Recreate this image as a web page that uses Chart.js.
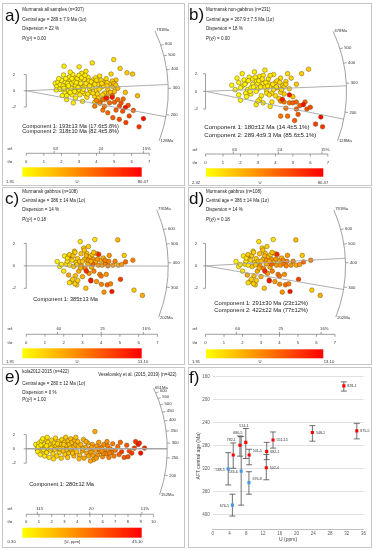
<!DOCTYPE html>
<html>
<head>
<meta charset="utf-8">
<script src="https://cdn.jsdelivr.net/npm/chart.js@4.4.1/dist/chart.umd.min.js"></script>
<style>
body{margin:0;background:#fff;width:373px;height:550px;position:relative;overflow:hidden}
canvas{position:absolute;left:0;top:0}
</style>
</head>
<body>
<canvas id="pa" width="373" height="550"></canvas>
<canvas id="pb" width="373" height="550"></canvas>
<canvas id="pc" width="373" height="550"></canvas>
<canvas id="pd" width="373" height="550"></canvas>
<canvas id="pe" width="373" height="550"></canvas>
<canvas id="pf" width="373" height="550"></canvas>
<script>
// pontos: [t/sigma, z, U]
const pontosA = [
 [1.65,0.93,4],[1.74,0.53,3],[1.80,1.09,5],[1.93,0.73,4],[2.02,0.20,4],[2.12,1.94,5],[2.21,1.09,6],[2.30,0.53,5],[2.40,0.04,6],[2.49,1.41,6],
 [2.58,0.93,7],[2.68,1.74,6],[2.77,0.32,8],[2.87,-0.20,7],[2.96,0.73,8],[3.05,1.25,7],[3.15,2.14,8],[3.24,0.53,9],[3.33,-0.36,10],[3.43,1.01,9],
 [3.52,1.66,9],[3.61,0.20,11],[3.71,0.69,10],[3.80,1.33,11],[3.90,-0.69,14],[3.99,0.04,12],[4.08,0.77,12],[4.18,1.82,11],[4.27,0.44,14],[4.36,1.09,13],
 [4.46,-0.28,17],[4.55,1.49,14],[4.64,0.20,17],[4.74,0.85,16],[4.83,2.06,14],[4.93,0.53,19],[5.02,-0.08,22],[5.11,1.33,18],[5.21,0.32,22],
 [1.9,0.2,4],[2.0,1.3,5],[2.1,0.6,4],[2.2,-0.3,5],[2.35,0.9,5],[2.45,1.7,6],[2.55,0.3,6],[2.6,-0.5,6],[2.7,1.2,7],[2.8,0.7,6],[2.9,1.5,7],
 [3.0,0.1,8],[3.1,0.9,8],[3.2,-0.1,8],[3.3,1.4,8],[3.35,0.6,9],[3.45,-0.8,11],[3.55,1.2,9],[3.65,-0.2,11],[3.75,0.4,11],[3.85,1.0,11],
 [3.95,1.6,10],[4.05,-0.4,14],[4.15,0.2,13],[4.25,1.3,13],[4.4,0.6,14],[4.5,-0.9,20],[4.6,1.0,15],[4.7,-0.3,19],[4.9,1.2,17],[5.0,0.9,20],
 [2.25,1.5,5],[2.65,2.0,6],[3.0,1.9,7],[3.4,2.4,8],[2.3,-0.6,5],[2.8,-0.9,7],[3.2,-1.3,9],[3.9,-1.4,14],[4.2,-1.5,18],[4.5,-1.1,20],
 [4.98,3.84,12],[3.76,3.43,10],[2.15,3.03,6],[3.01,2.95,8],[5.34,2.75,15],[5.73,2.22,18],[6.05,2.06,20],[6.33,-0.61,24],[5.64,-0.20,22],[2.3,-1.09,6],[2.68,-1.49,7],
 [1.7,0.1,3],[1.85,1.5,4],[2.05,-0.6,4],[2.15,0.3,5],[2.4,0.6,5],[2.5,-0.2,6],[2.6,1.5,6],[2.75,-0.1,7],[2.85,1.0,7],[2.95,0.4,8],
 [3.05,-0.5,8],[3.15,1.6,8],[3.25,0.2,9],[3.4,0.9,9],[3.5,-0.4,10],[3.6,0.6,10],[3.7,1.1,10],[3.8,-0.3,12],[3.9,0.8,11],[4.0,1.3,12],
 [4.1,-0.9,15],[4.3,0.9,13],[4.35,-0.5,16],[4.6,0.6,16],[4.8,-0.2,20],[5.1,0.7,20],[3.35,1.9,8],[2.5,2.3,6],
 [4.18,-1.49,45],[4.36,-1.09,48],[4.74,-1.49,50],[5.02,-1.41,52],[5.21,-1.09,50],[5.30,-1.90,55],[5.11,-2.38,52],[5.49,-2.51,56],[5.86,-3.11,60],[6.10,-2.42,55],
 [5.30,-3.52,58],[4.93,-3.31,54],[5.67,-3.92,62],[6.42,-4.44,66],[4.64,-2.71,50],[4.36,-2.38,46],[3.90,-1.90,42],[5.52,-1.01,48],[4.6,-0.9,44],[4.9,-0.6,46],
 [5.4,-1.5,56],[5.8,-1.8,58],[4.0,-1.2,40],[4.45,-1.9,47],
 [4.55,-0.89,74],[4.89,-0.81,76],[5.64,-2.06,78],[6.67,-3.43,80]
];
const pontosB = [
 [1.5,0.7,3],[1.8,1.5,4],[1.9,-0.4,4],[2.1,2.0,5],[2.1,0.6,4],[2.3,1.0,5],[2.4,0.2,5],[2.5,1.6,6],[2.6,-0.3,6],[2.7,0.8,7],
 [2.8,2.2,6],[2.9,1.2,7],[3.0,0.3,7],[3.1,1.7,8],[3.2,-0.5,8],[3.3,0.9,8],[3.4,2.4,8],[3.5,0.1,9],[3.6,1.4,10],[3.7,0.6,10],
 [3.8,-0.2,11],[3.9,1.9,10],[4.0,1.0,11],[4.1,0.4,12],[4.2,-0.8,15],[4.3,1.5,13],[4.4,0.7,14],[4.5,-0.3,16],[4.6,1.1,14],[4.7,2.0,13],
 [4.8,0.3,17],[4.9,1.5,16],[5.0,-0.6,20],[5.2,0.8,18],[5.5,2.0,17],[5.9,2.5,18],[1.9,1.0,4],[2.2,1.3,5],[2.3,-0.2,5],[2.6,0.4,5],
 [2.7,1.4,6],[2.9,0.0,7],[3.0,0.9,7],[3.1,-0.9,7],[3.3,1.8,8],[3.4,0.5,9],[3.5,-0.2,9],[3.6,0.9,10],[3.7,1.8,10],[3.9,0.2,11],
 [4.0,-0.5,12],[4.1,1.2,12],[4.3,-0.1,14],[4.5,0.5,15],[2.9,-1.5,7],[3.3,-1.3,8],[3.8,-1.2,10],[2.0,-1.0,4],[3.7,-1.7,10],
 [1.7,0.2,3],[2.0,0.4,4],[2.25,0.8,5],[2.45,1.2,5],[2.55,0.0,6],[2.75,0.5,6],[2.85,1.6,7],[3.05,1.2,7],[3.15,0.5,8],[3.25,1.4,8],
 [3.45,1.0,9],[3.55,0.6,9],[3.65,-0.4,11],[3.85,0.8,11],[4.05,0.5,12],[4.25,1.0,13],[4.35,0.2,14],[4.6,0.8,15],[2.35,-0.6,5],[3.0,-1.1,8],
 [4.3,-1.1,42],[4.5,-1.2,45],[4.8,-1.3,48],[5.0,-1.3,52],[5.2,-1.2,50],[5.4,-1.6,55],[5.7,-1.2,52],[5.2,-2.0,54],[4.7,-2.8,48],[5.1,-3.3,55],
 [5.8,-2.0,58],[5.3,-2.6,56],[6.3,-3.7,62],[6.7,-4.0,65],[4.3,-2.8,45],[4.6,-1.9,46],[6.0,-1.8,58],
 [4.4,-0.9,74],[4.8,-0.4,76],[5.6,-1.5,78],[6.6,-2.9,80]
];
const pontosCD = [
 [1.65,0.38,2.3],[1.79,-0.06,2.6],[1.88,0.12,2.5],[2.0,-0.47,2.8],[2.05,0.88,2.6],[2.14,0.15,3.2],[2.19,0.41,3],[2.26,-0.82,6],[2.31,0.06,3],[2.36,0.88,7],
 [2.4,-1.4,3.3],[2.45,0.5,3.6],[2.48,-1.2,4],[2.53,-0.06,4.5],[2.57,1.31,3.2],[2.62,-0.88,4.8],[2.66,0.29,4],[2.69,-1.69,4],[2.74,0.64,4.2],[2.8,-0.47,5.5],
 [2.88,2.16,3],[2.92,1.08,4.5],[2.95,0.0,6.5],[3.0,-0.96,5.5],[3.06,1.58,4],[3.11,0.58,5],[3.14,-0.23,7.5],[3.18,-1.99,4.5],[3.23,1.11,4.2],[3.28,0.18,5.5],
 [3.32,1.72,4],[3.35,-0.67,6.5],[3.39,0.79,4.5],[3.44,-1.26,10],[3.49,-0.12,5.5],[3.52,0.99,4.5],[3.56,0.58,6.5],[3.61,-0.47,7.5],[3.66,2.34,3.2],[3.7,0.35,5.5],
 [3.75,-1.4,6.5],[3.78,1.08,5.5],[3.84,0.06,6.5],[3.87,1.02,11.5],[3.92,-0.76,7.5],[3.98,0.5,5.5],[4.01,-1.64,7.5],[4.05,0.06,6.5],[4.11,0.7,5.5],[4.15,-2.34,6.5],
 [4.22,0.2,7.5],[4.27,-0.76,6.5],[4.32,-1.69,8.5],[4.36,0.0,7.5],[4.43,0.93,6.5],[4.5,-1.6,7.5],[4.57,-2.28,12.5],[4.62,0.06,6.5],[4.74,0.41,7.5],[4.88,2.31,5],
 [4.91,0.06,5.5],[5.03,-1.2,10.5],[5.09,0.12,6.5],[5.23,0.93,4.2],[5.3,0.35,8.5],[5.69,0.5,7.5],[5.75,-2.16,4.2],[6.2,-2.63,5.5],[3.21,-0.47,11.5],[3.45,-1.34,12.5],
 [3.56,0.15,9],[2.2,0.7,3.2],[2.3,1.0,4],[2.5,0.9,4.5],[2.6,1.2,4],[2.7,0.1,4.5],[2.85,0.4,4.5],[2.9,-0.2,5.5],[3.0,0.4,4.5],[3.1,1.4,4.5],
 [3.2,0.9,5.5],[3.3,0.5,6.5],[3.45,0.4,5.5],[3.6,1.2,4.5],[3.8,0.6,6.5],[4.0,-0.9,8.5],[4.2,0.5,7.5],[4.4,0.4,7.5],[2.3,-1.5,3.2],[2.6,-1.6,4],[2.75,-1.3,4]
];
const pontosE = [
 [0.75,0.6,3],[0.85,0.0,3],[0.9,-0.4,4],[1.0,0.8,3],[1.05,0.3,4],[1.1,-0.8,4],[1.2,1.1,4],[1.25,0.1,5],[1.3,-0.3,4],[1.4,0.6,5],
 [1.45,-1.0,5],[1.5,0.2,5],[1.55,1.3,5],[1.6,-0.5,6],[1.7,0.9,6],[1.75,0.0,6],[1.8,-1.2,6],[1.85,0.5,6],[1.9,-0.2,7],[2.0,1.2,7],
 [2.05,0.3,7],[2.1,-0.7,7],[2.2,0.8,7],[2.25,-0.1,8],[2.3,1.5,8],[2.35,0.4,8],[2.4,-1.0,8],[2.5,0.1,8],[2.55,1.0,8],[2.6,-0.5,9],
 [2.7,0.6,9],[2.75,-1.3,9],[2.8,1.3,9],[2.85,0.2,9],[2.9,-0.3,10],[3.0,0.9,10],[3.05,-0.8,10],[3.1,1.6,10],[3.15,0.4,10],[3.2,-0.1,11],
 [3.3,1.1,11],[3.35,-0.6,11],[3.4,0.6,11],[3.5,1.4,12],[3.55,-0.2,12],[3.6,0.9,12],[3.7,0.2,12],[3.75,-1.0,13],[3.8,1.2,13],[3.9,0.5,14],
 [1.3,1.4,4],[1.65,1.6,5],[2.15,-1.4,7],[1.95,0.1,7],[2.45,0.7,8],[2.95,0.6,10],[3.25,-1.2,11],[3.65,-0.6,12],[0.95,0.3,3],[1.15,0.5,4],
 [1.35,-0.1,4],[1.6,0.4,5],[2.65,0.0,9],[3.45,0.1,11],
 [3.95,-0.4,12],[4.05,1.0,12.5],[4.1,0.3,12.5],[4.2,-0.9,13],[4.3,0.6,13],[4.4,-0.3,14],[4.5,1.3,14],[4.55,-1.3,15],[4.65,0.2,15],[4.75,-0.6,15.5],
 [4.85,0.8,15.5],[4.9,-1.0,16],[5.0,0.0,16],[5.1,-0.5,17],[5.2,0.6,17],[5.3,-1.5,17],[5.4,2.4,15.5],[5.45,-0.2,18],[5.55,0.4,18],[5.6,-0.9,19],
 [5.7,0.9,19],[5.8,-0.4,20],[5.9,0.2,20],[6.0,-1.1,21],[6.1,0.6,21],[6.2,-0.2,22],[6.3,-0.7,22],[6.4,0.4,22],[6.5,-1.2,23],[6.6,0.0,23],
 [6.7,-0.5,23],[6.8,0.7,24],[6.9,-1.0,24],[7.0,-0.2,25],[3.9,1.6,11],[4.15,-1.4,12.5],[4.7,1.0,15],[5.05,-1.7,17],[5.25,-0.9,17],[5.5,-1.3,18],
 [5.75,0.0,19],[6.05,-0.6,21],[6.35,1.0,21],[4.45,0.0,14],[5.15,0.2,17],[5.95,-0.3,20],[6.55,-0.6,23],
 [7.2,0.3,27],[7.3,-0.8,28],[7.5,-0.4,36],[7.7,-1.2,30],[7.9,0.5,31],[8.1,-0.3,33],[8.3,-0.6,35],[8.5,0.1,36],[8.6,1.0,37],[8.8,0.6,43],
 [8.9,0.8,40],[9.0,-0.6,44],[9.3,0.1,39],[7.4,0.9,28],[8.0,-1.1,32]
];

const idadeCentral = {a: 289, b: 267.9, c: 386, d: 386, e: 280};
const componentesA = [193, 318];
const componentesB = [180, 289.4];
const componentesC = [385];
const componentesD = [291, 422];
const componentesE = [280];
const arcoA = [600, 500, 400, 300, 200], extremosA = [128, 791];
const arcoB = [500, 400, 300, 200], extremosB = [128, 678];
const arcoCD = [600, 500, 400, 300], extremosCD = [202, 791];
const arcoE = [600, 550, 500, 450, 400, 350, 300, 250, 200], extremosE = [152, 651];
const erroRelAB = [63, 24, 15], erroRelCD = [60, 25, 16], erroRelE = [115, 20, 11];
const faixaUA = [1.91, 80.47], faixaUB = [2.32, 80.47], faixaUCD = [1.91, 13.10], faixaUE = [0.30, 45.10];

const cabecalhoA = ['Murmansk all samples (n=307)', 'Central age = 289 ± 7.9 Ma (1σ)', 'Dispersion = 22 %', 'P(χ²) = 0.00'];
const cabecalhoB = ['Murmansk non-gabbros (n=231)', 'Central age = 267.9 ± 7.5 Ma (1σ)', 'Dispersion = 18 %', 'P(χ²) = 0.00'];
const cabecalhoCD = ['Murmansk gabbros (n=108)', 'Central age = 386 ± 14 Ma (1σ)', 'Dispersion = 14 %', 'P(χ²) = 0.18'];
const cabecalhoE = ['kola2012-2015 (n=422)', 'Central age = 280 ± 12 Ma (1σ)', 'Dispersion = 0 %', 'P(χ²) = 1.00'];
const textoCompA = ['Component 1: 193±13 Ma (17.6±5.8%)', 'Component 2: 318±10 Ma (82.4±5.8%)'];
const textoCompB = ['Component 1: 180±12 Ma (14.4±5.1%)', 'Component 2: 289.4±9.3 Ma (85.6±5.1%)'];
const textoCompC = ['Component 1: 385±13 Ma'];
const textoCompD = ['Component 1: 291±30 Ma (23±12%)', 'Component 2: 422±22 Ma (77±12%)'];
const textoCompE = ['Component 1: 280±12 Ma'];

// painel f
const amostrasF = ['828-1', '875-5', '548-1', '551-15', '682-1', '502-4', '514-1', '680-5', '782-1', '501-5', '538-5', '533-6', '676-8', '676-5'];
const uF = [31.3, 34.4, 23.8, 14.4, 12.9, 12.8, 7.9, 6.5, 4.9, 8.7, 3.7, 6.8, 8.65, 4.7];
const idadeF = [176, 254, 257, 270, 290, 318, 274, 279, 296, 296, 320, 324, 344, 383];
const minF = [169, 241, 245, 256, 274, 295, 250, 263, 275, 286, 292, 264, 325, 364];
const maxF = [185, 268, 272, 284, 304, 339, 302, 298, 319, 313, 348, 383, 364, 402];
const grupoF = ['r', 'r', 'r', 'r', 'r', 'r', 'r', 'r', 'r', 'r', 'b', 'b', 'b', 'b'];

const W = 373, H = 550;
const FONTE = "'Liberation Sans', Arial, sans-serif";
Chart.defaults.font.family = FONTE;

function corU(u, faixa) {
  const f = Math.min(1, Math.max(0, (u - faixa[0]) / (faixa[1] - faixa[0])));
  return 'rgb(255,' + Math.round(255 * (1 - f)) + ',0)';
}

function pluginRadial(L, D) {
  return {
    id: 'radial',
    beforeDraw(chart) {
      const c = chart.ctx;
      c.save();
      c.strokeStyle = '#c6c6c6'; c.lineWidth = 1;
      c.strokeRect(L.box[0] + 0.5, L.box[1] + 0.5, L.box[2], L.box[3]);
      c.restore();
    },
    afterDraw(chart) {
      const c = chart.ctx, xs = chart.scales.x, ys = chart.scales.y;
      const ox = xs.getPixelForValue(0), oy = ys.getPixelForValue(0);
      const passo = xs.getPixelForValue(1) - ox;
      const ang = t => Math.atan2(ys.getPixelForValue(Math.log(t / D.t0)) - oy, passo);
      const ponto = (a, r) => [ox + r * Math.cos(a), oy + r * Math.sin(a)];
      c.save();
      // linhas dos componentes
      c.strokeStyle = '#a6a6a6'; c.lineWidth = L.lw || 0.9;
      D.comps.forEach(t => {
        const p = ponto(ang(t), L.R);
        c.beginPath(); c.moveTo(ox, oy); c.lineTo(p[0], p[1]); c.stroke();
      });
      // arco
      c.strokeStyle = '#8a8a8a'; c.lineWidth = 0.8;
      c.beginPath(); c.arc(ox, oy, L.R, ang(D.ext[1]), ang(D.ext[0])); c.stroke();
      c.fillStyle = '#333'; c.font = '4.2px ' + FONTE; c.textBaseline = 'middle'; c.textAlign = 'left';
      D.arco.forEach(t => {
        const a = ang(t), p0 = ponto(a, L.R), p1 = ponto(a, L.R + 3), p2 = ponto(a, L.R + 4.5);
        c.beginPath(); c.moveTo(p0[0], p0[1]); c.lineTo(p1[0], p1[1]); c.stroke();
        c.fillText(String(t), p2[0], p2[1]);
      });
      D.ext.forEach(t => {
        const p = ponto(ang(t), L.R + 1.5);
        c.fillText(t + 'Ma', p[0], p[1]);
      });
      // eixo z
      c.strokeStyle = '#777'; c.lineWidth = 0.7;
      c.beginPath();
      c.moveTo(ox, ys.getPixelForValue(2)); c.lineTo(ox, ys.getPixelForValue(-2));
      [2, 0, -2].forEach(v => { const y = ys.getPixelForValue(v); c.moveTo(ox, y); c.lineTo(ox - 2.5, y); });
      c.stroke();
      c.textAlign = 'center';
      [2, 0, -2].forEach(v => c.fillText(String(v), L.yLabX, ys.getPixelForValue(v)));
      // eixo de precisao
      c.beginPath();
      c.moveTo(xs.getPixelForValue(0), L.axY); c.lineTo(xs.getPixelForValue(D.tmax), L.axY);
      for (let k = 0; k <= D.tmax; k++) { const x = xs.getPixelForValue(k); c.moveTo(x, L.axY); c.lineTo(x, L.axY + 2.5); }
      D.sig.forEach(s => { const x = xs.getPixelForValue(100 / s); c.moveTo(x, L.axY); c.lineTo(x, L.axY - 2.5); });
      c.stroke();
      for (let k = 0; k <= D.tmax; k++) c.fillText(String(k), xs.getPixelForValue(k), L.tLabY);
      c.textAlign = 'left';
      D.sig.forEach((s, i) => c.fillText(i === D.sig.length - 1 ? s + '%' : String(s), xs.getPixelForValue(100 / s) - 1, L.sigLabY));
      c.textAlign = 'center';
      c.fillText('σ/t', L.axLabX, L.sigLabY);
      c.fillText('t/σ', L.axLabX, L.tLabY);
      // barra de cores
      const g = c.createLinearGradient(L.bar[0], 0, L.bar[1], 0);
      g.addColorStop(0, corU(D.faixa[0], D.faixa)); g.addColorStop(0.5, corU((D.faixa[0] + D.faixa[1]) / 2, D.faixa)); g.addColorStop(1, corU(D.faixa[1], D.faixa));
      c.fillStyle = g;
      c.fillRect(L.bar[0], L.bar[2], L.bar[1] - L.bar[0], L.bar[3] - L.bar[2]);
      c.fillStyle = '#333';
      D.barLab.forEach((t, i) => c.fillText(t, L.barLabX[i], L.barLabY));
      // textos
      c.textAlign = 'left';
      c.fillStyle = '#222';
      c.font = '4.5px ' + FONTE;
      D.cab.forEach((t, i) => c.fillText(t, L.hx, L.hy[i]));
      if (L.extra) c.fillText(L.extra[0], L.extra[1], L.extra[2]);
      c.font = L.compFont + 'px ' + FONTE;
      D.compTxt.forEach((t, i) => c.fillText(t, L.compX, L.compY[i]));
      c.textBaseline = 'alphabetic';
      c.font = '17px ' + FONTE; c.fillStyle = '#111';
      c.fillText(L.letra, L.lx, L.ly);
      c.restore();
    }
  };
}

function criarRadial(id, pontos, L, D) {
  new Chart(document.getElementById(id), {
    type: 'scatter',
    data: {
      datasets: [{
        data: pontos.map(p => ({x: p[0], y: p[1]})),
        pointBackgroundColor: pontos.map(p => corU(p[2], D.faixa)),
        pointBorderColor: 'rgba(105,75,0,0.9)',
        pointBorderWidth: 0.5,
        pointRadius: 2.3
      }]
    },
    options: {
      responsive: false, devicePixelRatio: 1, animation: false, events: [],
      layout: {padding: 0},
      plugins: {legend: {display: false}, tooltip: {enabled: false}},
      scales: {
        x: {type: 'linear', display: false, min: -L.ox / L.ux, max: (W - L.ox) / L.ux},
        y: {type: 'linear', display: false, min: -(H - L.oy) / L.uy, max: L.oy / L.uy}
      }
    },
    plugins: [pluginRadial(L, D)]
  });
}

criarRadial('pa', pontosA,
  {letra: 'a)', box: [2, 3, 182, 182], lx: 5, ly: 21, hx: 22.3, hy: [10, 19.5, 29, 38.3], ox: 22.3, oy: 87.7, ux: 18, uy: 8.25, R: 142,
   yLabX: 14, axLabX: 10, sigLabY: 149, axY: 153.3, tLabY: 162.3, bar: [22.3, 141.7, 167.3, 176.7], barLabY: 181.7, barLabX: [10, 77, 143],
   compX: 22.3, compY: [126, 131.5], compFont: 5.6},
  {t0: idadeCentral.a, comps: componentesA, arco: arcoA, ext: extremosA, sig: erroRelAB, tmax: 7, faixa: faixaUA,
   barLab: ['1.91', 'U', '80.47'], cab: cabecalhoA, compTxt: textoCompA});

criarRadial('pb', pontosB,
  {letra: 'b)', box: [188, 3, 183, 182], lx: 189, ly: 20, hx: 206, hy: [10, 19.3, 29, 38.3], ox: 206, oy: 88.3, ux: 17.9, uy: 9, R: 141,
   yLabX: 196, axLabX: 195, sigLabY: 150, axY: 154, tLabY: 163.3, bar: [206, 323.3, 168.3, 176.7], barLabY: 182.7, barLabX: [196, 260, 323],
   compX: 204.3, compY: [127.7, 135], compFont: 6.1},
  {t0: idadeCentral.b, comps: componentesB, arco: arcoB, ext: extremosB, sig: erroRelAB, tmax: 7, faixa: faixaUB,
   barLab: ['2.32', 'U', '80.47'], cab: cabecalhoB, compTxt: textoCompB});

criarRadial('pc', pontosCD,
  {letra: 'c)', box: [2, 187, 182, 177], lx: 5, ly: 203.5, hx: 22.3, hy: [191.7, 200.7, 210, 219.3], ox: 22.3, oy: 265.7, ux: 19.2, uy: 11.42, R: 142,
   yLabX: 14, axLabX: 10, sigLabY: 329.3, axY: 334.3, tLabY: 343.3, bar: [22.3, 141.7, 348.3, 358.3], barLabY: 362, barLabX: [10, 77, 143],
   compX: 33.3, compY: [299.3], compFont: 5.6},
  {t0: idadeCentral.c, comps: componentesC, arco: arcoCD, ext: extremosCD, sig: erroRelCD, tmax: 7, faixa: faixaUCD,
   barLab: ['1.91', 'U', '13.10'], cab: cabecalhoCD, compTxt: textoCompC});

criarRadial('pd', pontosCD,
  {letra: 'd)', box: [188, 187, 183, 177], lx: 189, ly: 203.5, hx: 206, hy: [191.7, 200.7, 210, 219.3], ox: 206, oy: 265.7, ux: 18.95, uy: 11.42, R: 140,
   yLabX: 196, axLabX: 195, sigLabY: 329.3, axY: 334.3, tLabY: 343.3, bar: [206, 323.3, 349.3, 358.3], barLabY: 362.3, barLabX: [196, 260, 329],
   compX: 214.3, compY: [303.7, 310.7], compFont: 5.8},
  {t0: idadeCentral.d, comps: componentesD, arco: arcoCD, ext: extremosCD, sig: erroRelCD, tmax: 7, faixa: faixaUCD,
   barLab: ['1.91', 'U', '13.10'], cab: cabecalhoCD, compTxt: textoCompD});

criarRadial('pe', pontosE,
  {letra: 'e)', box: [2, 367, 182, 180], lx: 5, ly: 382, hx: 22.3, hy: [371.7, 383.3, 392.3, 399.7], ox: 22.3, oy: 451.7, ux: 13.03, uy: 7.3, R: 141, lw: 1.4,
   yLabX: 14, axLabX: 10, sigLabY: 509.3, axY: 514.3, tLabY: 522.3, bar: [22.3, 141.7, 527.7, 537.7], barLabY: 542.3, barLabX: [11.7, 72.3, 137.3],
   compX: 29.3, compY: [484], compFont: 5.6, extra: ['Veselovskiy et al. (2015, 2019) (n=422)', 98.3, 375]},
  {t0: idadeCentral.e, comps: componentesE, arco: arcoE, ext: extremosE, sig: erroRelE, tmax: 10, faixa: faixaUE,
   barLab: ['0.30', '[U, ppm]', '45.10'], cab: cabecalhoE, compTxt: textoCompE});

// painel f
const ladoRotulo = ['r', 'r', 'r', 'r', 'r', 'r', 't', 't', 't', 'ru', 'l', 'l', 'ru', 'l'];
const pluginF = {
  id: 'barrasErro',
  beforeDraw(chart) {
    const c = chart.ctx;
    c.save(); c.strokeStyle = '#c6c6c6'; c.lineWidth = 1;
    c.strokeRect(188.5, 367.5, 183, 180);
    c.restore();
  },
  beforeDatasetsDraw(chart) {
    const c = chart.ctx, xs = chart.scales.x, ys = chart.scales.y;
    c.save(); c.strokeStyle = '#4d4d4d'; c.lineWidth = 0.8;
    amostrasF.forEach((s, i) => {
      const x = xs.getPixelForValue(uF[i]), y0 = ys.getPixelForValue(minF[i]), y1 = ys.getPixelForValue(maxF[i]);
      c.beginPath();
      c.moveTo(x, y0); c.lineTo(x, y1);
      c.moveTo(x - 3, y0); c.lineTo(x + 3, y0);
      c.moveTo(x - 3, y1); c.lineTo(x + 3, y1);
      c.stroke();
    });
    c.restore();
  },
  afterDraw(chart) {
    const c = chart.ctx, xs = chart.scales.x, ys = chart.scales.y;
    c.save();
    c.fillStyle = '#333'; c.font = '3.6px ' + FONTE; c.textBaseline = 'middle';
    amostrasF.forEach((s, i) => {
      const x = xs.getPixelForValue(uF[i]), y = ys.getPixelForValue(idadeF[i]);
      const lado = ladoRotulo[i];
      if (lado === 'r') { c.textAlign = 'left'; c.fillText(s, x + 3.5, y); }
      else if (lado === 'ru') { c.textAlign = 'left'; c.fillText(s, x + 3.5, y - 4); }
      else if (lado === 'l') { c.textAlign = 'right'; c.fillText(s, x - 3.5, y + 1); }
      else { c.textAlign = 'center'; c.fillText(s, x - 2, ys.getPixelForValue(minF[i]) - 3); }
    });
    c.fillStyle = '#404040'; c.font = '5px ' + FONTE; c.textAlign = 'center';
    c.fillText('U (ppm)', (chart.chartArea.left + chart.chartArea.right) / 2, 539.5);
    c.translate(198.7, 456); c.rotate(-Math.PI / 2);
    c.fillText('AFT central age (Ma)', 0, 0);
    c.restore();
    c.save();
    c.fillStyle = '#111'; c.font = '17px ' + FONTE; c.textBaseline = 'alphabetic'; c.textAlign = 'left';
    c.fillText('f)', 189, 382.5);
    c.restore();
  }
};

const vermelhos = [], azuis = [];
amostrasF.forEach((s, i) => (grupoF[i] === 'r' ? vermelhos : azuis).push({x: uF[i], y: idadeF[i]}));

new Chart(document.getElementById('pf'), {
  type: 'scatter',
  data: {
    datasets: [
      {data: vermelhos, pointStyle: 'rect', pointRadius: 2.2, pointBackgroundColor: '#ff0000', pointBorderColor: '#ff0000', pointBorderWidth: 0},
      {data: azuis, pointStyle: 'rect', pointRadius: 2.2, pointBackgroundColor: '#4a97e8', pointBorderColor: '#4a97e8', pointBorderWidth: 0}
    ]
  },
  options: {
    responsive: false, devicePixelRatio: 1, animation: false, events: [],
    layout: {padding: {left: 200, right: 9.5, top: 376.7, bottom: 8.7}},
    plugins: {legend: {display: false}, tooltip: {enabled: false}},
    scales: {
      x: {type: 'linear', min: 0, max: 36,
          grid: {display: false, drawTicks: false}, border: {color: '#bfbfbf'},
          ticks: {stepSize: 4, font: {size: 4.5}, color: '#595959', padding: 2, maxRotation: 0, autoSkip: false},
          afterFit(s) { s.height = 12; }},
      y: {type: 'linear', reverse: true, min: 160, max: 425,
          grid: {color: '#d9d9d9', lineWidth: 0.8, drawTicks: false}, border: {display: false},
          ticks: {stepSize: 40, font: {size: 4.5}, color: '#595959', padding: 3, callback: v => (v % 40 === 0 ? v : null)},
          afterFit(s) { s.width = 12.7; }}
    }
  },
  plugins: [pluginF]
});
</script>
</body>
</html>
